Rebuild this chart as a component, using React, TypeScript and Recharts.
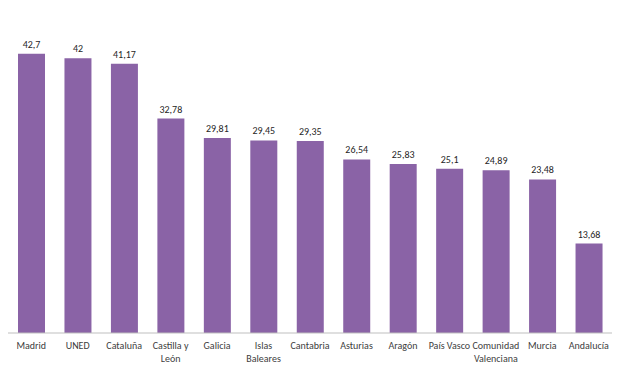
import { BarChart, Bar, XAxis, YAxis, LabelList } from "recharts";

const regions = [
  "Madrid",
  "UNED",
  "Cataluña",
  "Castilla y\nLeón",
  "Galicia",
  "Islas\nBaleares",
  "Cantabria",
  "Asturias",
  "Aragón",
  "País Vasco",
  "Comunidad\nValenciana",
  "Murcia",
  "Andalucía",
];
const values = [42.7, 42, 41.17, 32.78, 29.81, 29.45, 29.35, 26.54, 25.83, 25.1, 24.89, 23.48, 13.68];

const data = regions.map((name, i) => ({ name, value: values[i] }));

const font = "Carlito, Lato, 'Open Sans', sans-serif";

function RegionTick(props: any) {
  const { x, payload } = props;
  const lines = String(payload.value).split("\n");
  return (
    <text x={x} y={340} textAnchor="middle" fill="#404040" fontSize={10} fontFamily={font}>
      {lines.map((l, i) => (
        <tspan key={i} x={x} dy={i === 0 ? 9 : 13}>
          {l}
        </tspan>
      ))}
    </text>
  );
}

export default function App() {
  return (
    <div style={{ position: "absolute", left: 0, top: 0, width: 620, height: 368, background: "#fff" }}>
      <BarChart width={620} height={368} data={data} margin={{ top: 6, right: 8, bottom: 0, left: 8 }}>
        <XAxis
          dataKey="name"
          height={35}
          interval={0}
          tickLine={false}
          axisLine={{ stroke: "#bfbfbf" }}
          tick={<RegionTick />}
        />
        <YAxis hide domain={[0, 50]} />
        <Bar dataKey="value" fill="#8a63a6" barSize={27} isAnimationActive={false}>
          <LabelList
            dataKey="value"
            position="top"
            offset={6}
            fill="#262626"
            fontSize={10}
            fontFamily={font}
            formatter={(v: any) => String(v).replace(".", ",")}
          />
        </Bar>
      </BarChart>
    </div>
  );
}
